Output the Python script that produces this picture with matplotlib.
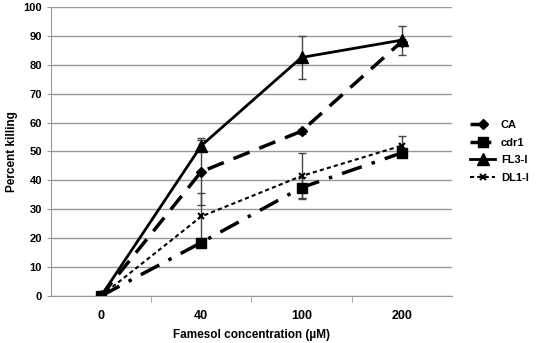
import numpy as np
import matplotlib.pyplot as plt

plt.rcParams['font.family'] = ['Liberation Sans', 'DejaVu Sans']
plt.rcParams['font.weight'] = 'bold'

# data
concentrations = ["0", "40", "100", "200"]
ca = [0, 43, 57, 88]
ca_err = [0, 11.5, 0.8, 1.0]
cdr1 = [0, 18.5, 37.5, 49.5]
cdr1_err = [0, 1.0, 3.5, 1.5]
fl3 = [0, 52, 82.5, 88.5]
fl3_err = [0, 2.0, 7.5, 5.0]
dl1 = [0, 27.5, 41.5, 52]
dl1_err = [0, 8.0, 8.0, 3.5]

x = np.arange(len(concentrations))

fig = plt.figure(figsize=(5.36, 3.43), dpi=100)
ax = fig.add_axes([0.095, 0.137, 0.748, 0.843])

ebkw = dict(fmt="none", ecolor="#444444", elinewidth=1.0, capsize=3, capthick=1.0)
for vals, errs in [(ca, ca_err), (cdr1, cdr1_err), (fl3, fl3_err), (dl1, dl1_err)]:
    ax.errorbar(x, vals, yerr=errs, **ebkw)

ax.plot(x, ca, color="black", lw=2.5, ls=(0, (5, 3)),
        marker="D", ms=5, label="CA")
ax.plot(x, cdr1, color="black", lw=2.5, ls=(0, (6, 3, 1, 3)),
        marker="s", ms=7, label="cdr1")
ax.plot(x, fl3, color="black", lw=2.0, ls="-",
        marker="^", ms=8, label="FL3-I")
ax.plot(x, dl1, color="black", lw=1.5, ls=(0, (2, 1.5)),
        marker="x", ms=5, mew=1.5, label="DL1-I")

ax.set_xlim(-0.5, 3.5)
ax.set_ylim(0, 100)
ax.set_yticks(np.arange(0, 101, 10))
ax.set_xticks(x)
ax.set_xticklabels(concentrations)
ax.set_xticks(np.arange(0.5, 3.5, 1.0), minor=True)
ax.tick_params(axis="x", which="major", length=0, pad=10, labelsize=9)
ax.tick_params(axis="x", which="minor", length=4, color="#999999")
ax.tick_params(axis="y", length=3, color="#999999", labelsize=8)

ax.grid(axis="y", color="#999999", lw=1.0)
ax.set_axisbelow(True)
for s in ["top", "right"]:
    ax.spines[s].set_visible(False)
ax.spines["left"].set_color("#999999")
ax.spines["bottom"].set_color("#999999")

ax.set_xlabel("Famesol concentration (µM)", fontsize=8.5, fontweight="bold", labelpad=5)
ax.set_ylabel("Percent killing", fontsize=8.5, fontweight="bold")

ax.legend(loc="center left", bbox_to_anchor=(1.02, 0.5), frameon=False,
          fontsize=8, handlelength=2.3, labelspacing=0.7, handletextpad=0.5)

fig.savefig("out.png", dpi=100)
